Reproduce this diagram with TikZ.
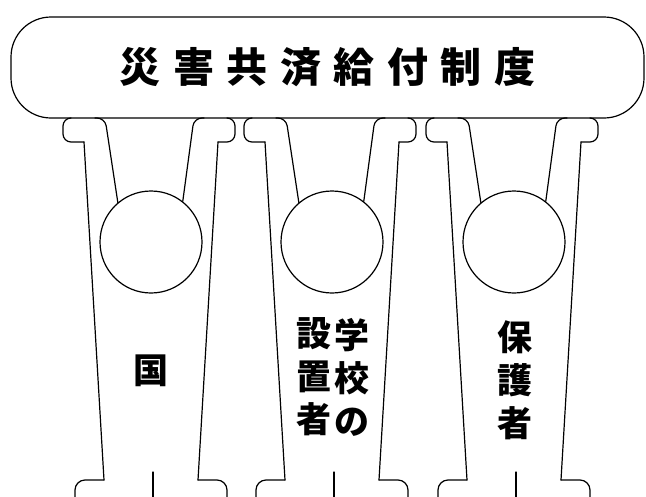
\documentclass[tikz,border=0pt]{standalone}
\usepackage{fontspec}
\newfontfamily\jp{Noto Sans CJK JP}
\tikzset{
  ln/.style={line width=1.2pt, line cap=round, line join=round},
  tabcorner/.style={ln, rounded corners=8pt},
  footcorner/.style={ln, rounded corners=10pt},
  ring/.style={ln, draw, circle, minimum size=102pt, inner sep=0pt},
  ttl/.style={font=\jp\bfseries\fontsize{41}{41}\selectfont},
  col/.style={font=\jp\bfseries\fontsize{35}{43}\selectfont, align=center, inner sep=0pt}
}
\newcommand\pillarshape[2]{%
  \node[ring] (#2) at (#1,242) {};
  % left tab, leg and foot
  \draw[tabcorner] ({#1-80},118) -- ({#1-88},118) -- ({#1-88},142) -- ({#1-67},142);
  \draw[ln] ({#1-67},142) -- ({#1-47},480);
  \draw[footcorner] ({#1-47},480) -- ({#1-76},480) -- ({#1-76},497);
  % right tab, leg and foot
  \draw[tabcorner] ({#1+76},118) -- ({#1+84},118) -- ({#1+84},142) -- ({#1+67},142);
  \draw[ln] ({#1+67},142) -- ({#1+47},480);
  \draw[footcorner] ({#1+47},480) -- ({#1+76},480) -- ({#1+76},497);
  % inner arms to the ring
  \draw[tabcorner] ({#1-56},118) -- ({#1-46},118) -- (#2.130);
  \draw[tabcorner] ({#1+53},118) -- ({#1+43},118) -- (#2.52);
  % middle line at the bottom
  \draw[ln] ({#1+2},472) -- ({#1+2},497);
}
\begin{document}
\begin{tikzpicture}[x=1pt,y=-1pt]
\useasboundingbox (0,0) rectangle (646,496);
\fill[white] (0,0) rectangle (646,496);
\node[ln, draw, rounded corners=40pt, minimum width=633pt, minimum height=101pt, inner sep=0pt, ttl]
  (bar) at (327.5,67.5) {災\kern12.5pt害\kern12.5pt共\kern12.5pt済\kern12.5pt給\kern12.5pt付\kern12.5pt制\kern12.5pt度};
\pillarshape{151}{ringA}
\pillarshape{332}{ringB}
\pillarshape{514}{ringC}
\node[col] (kuni) at (151,371) {国};
\node[col] (setchi) at (314,377) {設\\置\\者};
\node[col] (gakko) at (352,377) {学\\校\\の};
\node[col] (hogo) at (515,380) {保\\護\\者};
\end{tikzpicture}
\end{document}
